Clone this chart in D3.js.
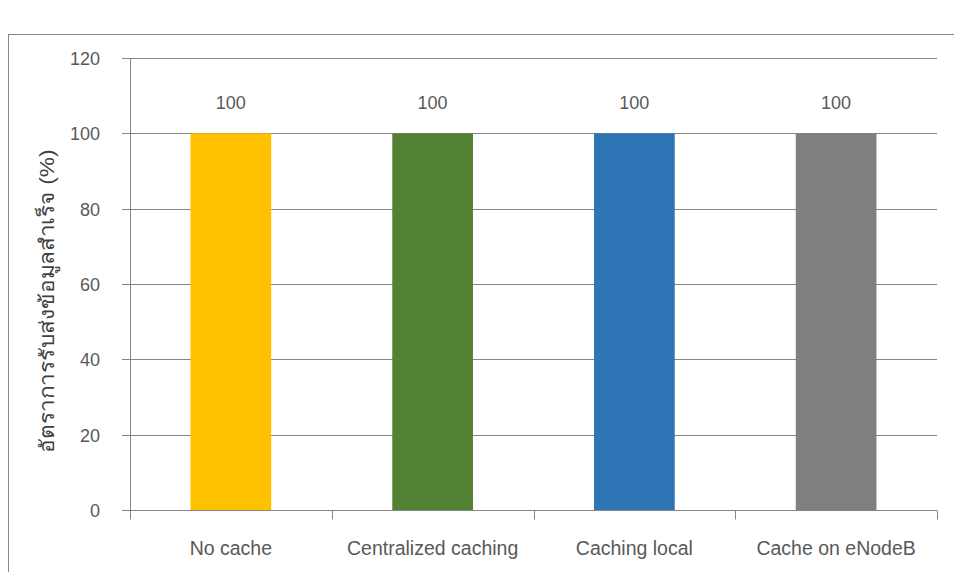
<!DOCTYPE html>
<html>
<head>
<meta charset="utf-8">
<script src="https://cdn.jsdelivr.net/npm/d3@7"></script>
<style>
  html, body { margin: 0; padding: 0; background: #fff; }
  svg { display: block; }
  text { font-family: "Liberation Sans", Arial, sans-serif; fill: #595959; }
</style>
</head>
<body>
<svg id="chart" width="954" height="572"></svg>
<script>
const categories = ["No cache", "Centralized caching", "Caching local", "Cache on eNodeB"];
const values = [100, 100, 100, 100];
const colors = ["#FFC000", "#548235", "#2E75B6", "#7F7F7F"];
const yTicks = [0, 20, 40, 60, 80, 100, 120];
const yTitle = "อัตราการรับส่งข้อมูลสำเร็จ (%)";

const svg = d3.select("#chart");
const W = 954, H = 572;
const plot = { left: 130, right: 937, top: 58, bottom: 510 };

// outer chart border
svg.append("rect")
  .attr("x", 8.5).attr("y", 34.5)
  .attr("width", W + 10).attr("height", H)
  .attr("fill", "none").attr("stroke", "#868686").attr("stroke-width", 1);

const x = d3.scaleBand().domain(categories).range([plot.left, plot.right]).paddingInner(0.6).paddingOuter(0.3);
const xOuter = d3.scaleBand().domain(categories).range([plot.left, plot.right]);
const y = d3.scaleLinear().domain([0, 120]).range([plot.bottom, plot.top]);

// gridlines + y ticks
const gy = svg.append("g");
yTicks.forEach(t => {
  const yy = Math.round(y(t)) + 0.5;
  gy.append("line")
    .attr("x1", plot.left - 8).attr("x2", plot.right)
    .attr("y1", yy).attr("y2", yy)
    .attr("stroke", "#868686").attr("stroke-width", 1);
  gy.append("text")
    .attr("x", 100).attr("y", yy).attr("dy", "0.35em")
    .attr("text-anchor", "end").attr("font-size", 18)
    .text(t);
});

// y axis line
svg.append("line")
  .attr("x1", plot.left + 0.5).attr("x2", plot.left + 0.5)
  .attr("y1", plot.top).attr("y2", plot.bottom)
  .attr("stroke", "#868686");

// bars
svg.append("g").selectAll("rect")
  .data(categories)
  .join("rect")
  .attr("x", d => x(d))
  .attr("width", x.bandwidth())
  .attr("y", (d, i) => y(values[i]))
  .attr("height", (d, i) => y(0) - y(values[i]))
  .attr("fill", (d, i) => colors[i]);

// x axis
const gx = svg.append("g").attr("transform", `translate(0,${Math.round(y(0)) + 0.5})`);
gx.append("line").attr("x1", plot.left).attr("x2", plot.right).attr("stroke", "#868686");
const boundaries = categories.map(c => xOuter(c)).concat([plot.right]);
gx.selectAll("line.tk").data(boundaries).join("line")
  .attr("class", "tk")
  .attr("x1", d => Math.round(d) + 0.5).attr("x2", d => Math.round(d) + 0.5)
  .attr("y1", 0).attr("y2", 9)
  .attr("stroke", "#868686");
gx.selectAll("text").data(categories).join("text")
  .attr("x", d => xOuter(d) + xOuter.bandwidth() / 2)
  .attr("y", 44)
  .attr("text-anchor", "middle")
  .attr("font-size", 19.5)
  .text(d => d);

// data labels
svg.append("g").selectAll("text")
  .data(categories)
  .join("text")
  .attr("x", d => x(d) + x.bandwidth() / 2)
  .attr("y", (d, i) => y(values[i]) - 31)
  .attr("dy", "0.35em")
  .attr("text-anchor", "middle")
  .attr("font-size", 18)
  .text((d, i) => values[i]);

// y title
svg.append("text")
  .attr("transform", `translate(54,301) rotate(-90)`)
  .attr("text-anchor", "middle")
  .attr("font-size", 20)
  .attr("textLength", 303)
  .attr("lengthAdjust", "spacingAndGlyphs")
  .style("fill", "#404040")
  .text(yTitle);
</script>
</body>
</html>
